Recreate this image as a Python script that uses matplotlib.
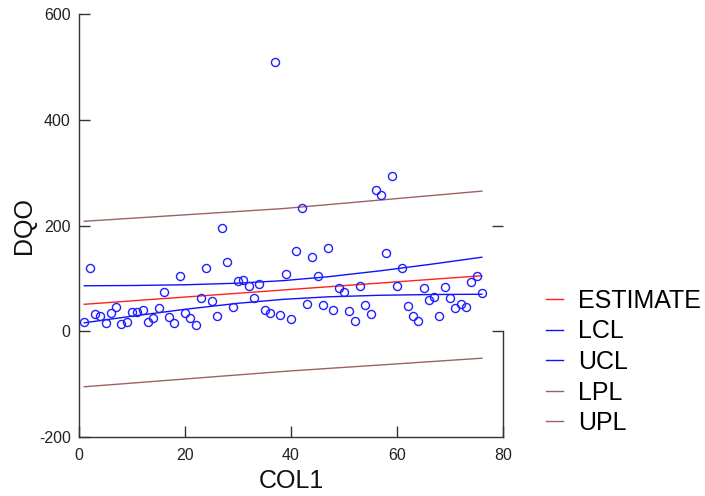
import matplotlib
matplotlib.use("Agg")
import matplotlib.pyplot as plt
from matplotlib.lines import Line2D

plt.rcParams['font.family'] = ['Liberation Sans', 'DejaVu Sans']
plt.rcParams['axes.unicode_minus'] = False

col1 = list(range(1, 77))
dqo = [17, 120, 33, 28, 15, 35, 45, 13, 17, 36,
       36, 41, 17, 25, 44, 74, 27, 16, 104, 35,
       26, 12, 63, 120, 57, 29, 195, 131, 46, 95,
       97, 85, 62, 89, 41, 35, 510, 31, 109, 23,
       152, 233, 52, 141, 104, 50, 157, 40, 81, 75,
       39, 20, 85, 50, 32, 267, 257, 148, 294, 86,
       120, 47, 29, 20, 82, 59, 64, 28, 84, 62,
       44, 51, 46, 93, 105, 73]

band_x = [1, 10, 20, 30, 38.5, 47, 57, 67, 76]
estimate = [51, 57.5, 64.7, 71.9, 78, 84.1, 91.3, 98.5, 105]
lcl = [16, 28.5, 41.5, 52.9, 60.3, 65.1, 68.1, 69.5, 70]
ucl = [86, 86.5, 87.9, 90.9, 95.7, 103.1, 114.5, 127.5, 140]
pband_x = [1, 38.5, 76]
lpl = [-105, -76, -51]
upl = [208, 232, 265]

xticks = [0, 20, 40, 60, 80]
yticks = [-200, 0, 200, 400, 600]

RED = '#ff2020'
BLUE = '#1010ff'
BROWN = '#a06060'

fig = plt.figure(figsize=(7.05, 4.96), dpi=100)
ax = fig.add_axes([79/705, 59/496, (503-79)/705, (437-14)/496])

ax.plot(col1, dqo, linestyle='none', marker='o', markersize=5.8,
        markerfacecolor='none', markeredgecolor='#2020ff', markeredgewidth=1.0, zorder=3)
ax.plot(band_x, estimate, color=RED, lw=1.0)
ax.plot(band_x, lcl, color=BLUE, lw=1.0)
ax.plot(band_x, ucl, color=BLUE, lw=1.0)
ax.plot(pband_x, lpl, color=BROWN, lw=1.0)
ax.plot(pband_x, upl, color=BROWN, lw=1.0)

ax.set_xlim(0, 80)
ax.set_ylim(-200, 600)
ax.set_xticks(xticks)
ax.set_yticks(yticks)
ax.spines['top'].set_visible(False)
ax.spines['right'].set_bounds(-200, 0)
for s in ['left', 'bottom', 'right']:
    ax.spines[s].set_color('#333333')
    ax.spines[s].set_linewidth(1.0)
ax.tick_params(axis='both', direction='in', length=8, width=1.0, color='#333333',
               labelsize=11.5, labelcolor='#222222', pad=6)
ax.tick_params(axis='x', pad=8)

# right-side inward ticks
axr = ax.twinx()
axr.set_ylim(-200, 600)
axr.set_yticks([0, 200])
axr.tick_params(axis='y', direction='in', length=8, width=1.0, color='#333333', labelright=False)
for s in axr.spines.values():
    s.set_visible(False)

ax.set_xlabel('COL1', fontsize=18, color='#111111', labelpad=4)
ax.set_ylabel('DQO', fontsize=18, color='#111111', labelpad=2)

handles = [Line2D([], [], color=RED, lw=1.0),
           Line2D([], [], color=BLUE, lw=1.0),
           Line2D([], [], color=BLUE, lw=1.0),
           Line2D([], [], color=BROWN, lw=1.0),
           Line2D([], [], color=BROWN, lw=1.0)]
labels = ['ESTIMATE', 'LCL', 'UCL', 'LPL', 'UPL']
fig.legend(handles, labels, loc='upper left', bbox_to_anchor=(546/705, 1 - 289/496),
           frameon=False, fontsize=18, handlelength=0.68, handletextpad=0.6,
           labelspacing=0.26, borderpad=0, borderaxespad=0)

fig.savefig('out.png', dpi=100)
